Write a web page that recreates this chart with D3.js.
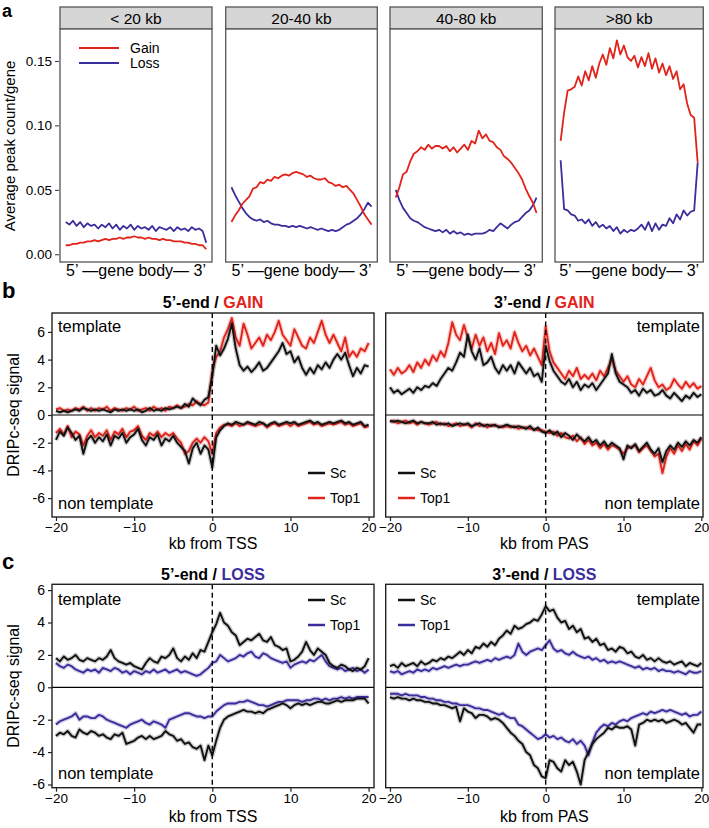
<!DOCTYPE html>
<html><head><meta charset="utf-8">
<script src="https://cdn.jsdelivr.net/npm/d3@7"></script>
<style>
body{margin:0;background:#fff}
svg{display:block}
text{font-family:"Liberation Sans",Arial,Helvetica,sans-serif;fill:#000}
</style>
</head><body>
<svg id="fig" width="709" height="828"></svg>
<script>
// ---------------- DATA ----------------
// Panel a: 40 bins along gene body
const aFacetLabels = ["< 20 kb", "20-40 kb", "40-80 kb", ">80 kb"];
const aTicks = [0.00, 0.05, 0.10, 0.15];
const gainLt20 = [0.007,0.007,0.008,0.008,0.009,0.009,0.010,0.010,0.011,0.010,0.011,0.012,0.011,0.012,0.012,0.013,0.012,0.013,0.013,0.014,0.013,0.013,0.012,0.013,0.012,0.012,0.011,0.012,0.011,0.011,0.010,0.010,0.010,0.009,0.009,0.008,0.008,0.007,0.007,0.004];
const lossLt20 = [0.025,0.023,0.026,0.022,0.025,0.021,0.024,0.022,0.023,0.020,0.023,0.021,0.024,0.020,0.023,0.019,0.022,0.020,0.023,0.019,0.022,0.020,0.021,0.019,0.022,0.018,0.021,0.020,0.019,0.021,0.018,0.021,0.019,0.020,0.018,0.021,0.019,0.020,0.018,0.009];
const gain20to40 = [0.025,0.030,0.034,0.039,0.042,0.045,0.051,0.052,0.056,0.055,0.058,0.057,0.060,0.059,0.061,0.062,0.061,0.063,0.064,0.063,0.062,0.060,0.061,0.059,0.058,0.058,0.059,0.056,0.055,0.053,0.054,0.052,0.053,0.050,0.047,0.042,0.037,0.031,0.027,0.023];
const loss20to40 = [0.052,0.046,0.041,0.036,0.032,0.029,0.027,0.026,0.027,0.025,0.026,0.024,0.023,0.023,0.022,0.022,0.021,0.022,0.021,0.022,0.021,0.020,0.021,0.020,0.019,0.020,0.019,0.018,0.019,0.018,0.019,0.021,0.023,0.024,0.026,0.028,0.031,0.035,0.040,0.037];
const gain40to80 = [0.044,0.052,0.062,0.064,0.072,0.078,0.080,0.083,0.081,0.085,0.082,0.084,0.084,0.082,0.084,0.080,0.083,0.079,0.082,0.085,0.081,0.088,0.086,0.096,0.090,0.093,0.088,0.087,0.083,0.081,0.076,0.074,0.071,0.067,0.063,0.058,0.051,0.045,0.040,0.032];
const loss40to80 = [0.050,0.042,0.036,0.032,0.028,0.026,0.025,0.023,0.021,0.020,0.019,0.018,0.019,0.017,0.019,0.016,0.018,0.016,0.017,0.015,0.016,0.015,0.016,0.016,0.016,0.017,0.019,0.018,0.021,0.024,0.022,0.020,0.023,0.025,0.026,0.029,0.032,0.034,0.038,0.044];
const gainGt80 = [0.088,0.110,0.127,0.128,0.130,0.138,0.131,0.142,0.135,0.146,0.137,0.148,0.155,0.147,0.160,0.152,0.166,0.155,0.162,0.153,0.150,0.154,0.145,0.153,0.146,0.156,0.144,0.152,0.141,0.148,0.139,0.146,0.136,0.142,0.128,0.132,0.117,0.108,0.106,0.071];
const lossGt80 = [0.073,0.035,0.034,0.031,0.030,0.026,0.027,0.024,0.027,0.022,0.025,0.021,0.023,0.020,0.022,0.018,0.021,0.016,0.019,0.017,0.019,0.018,0.020,0.023,0.019,0.025,0.018,0.024,0.019,0.023,0.022,0.028,0.024,0.031,0.027,0.034,0.030,0.033,0.034,0.071];

// Panels b, c: bins every 0.5 kb from -20 to +20
const kbTicks = [-20, -10, 0, 10, 20];
const signalTicks = [-6, -4, -2, 0, 2, 4, 6];

// b: 5'-end / GAIN
const gain5_Sc_template = [0.3,0.2,0.3,0.2,0.3,0.4,0.3,0.5,0.4,0.3, 0.4,0.3,0.4,0.3,0.2,0.4,0.3,0.4,0.3,0.4, 0.3,0.4,0.2,0.3,0.5,0.3,0.4,0.3,0.5,0.4, 0.5,0.6,0.5,0.8,0.6,1.2,0.9,0.7,1.1,1.3, 2.8, 5.0,4.3,4.8,5.5,6.6,4.8,3.6,3.2,3.5,3.1, 3.4,3.8,3.2,3.4,3.8,4.2,4.6,5.2,4.4,4.6, 3.8,4.2,3.4,2.9,3.4,3.0,3.6,3.3,3.8,3.4, 4.0,4.4,4.0,4.5,3.6,2.8,3.4,3.0,3.6,3.5];
const gain5_Top1_template = [0.4,0.5,0.3,0.4,0.3,0.5,0.4,0.6,0.3,0.5, 0.3,0.5,0.4,0.6,0.3,0.5,0.4,0.3,0.5,0.4, 0.6,0.3,0.4,0.5,0.3,0.6,0.4,0.5,0.3,0.6, 0.5,0.7,0.5,0.6,0.8,0.7,1.0,0.8,0.7,0.9, 3.2, 4.2,4.6,5.6,6.2,7.0,5.6,5.0,6.6,5.8,4.8, 5.2,5.6,5.0,5.8,5.4,6.0,6.8,5.8,5.4,5.0, 6.2,5.6,5.0,4.8,5.6,5.2,6.0,6.8,5.8,5.2, 5.8,5.2,4.6,5.6,4.2,4.6,4.2,4.8,4.6,5.2];
const gain5_Sc_nontemplate = [-1.8,-1.2,-1.5,-0.9,-1.3,-1.8,-1.5,-2.8,-1.8,-1.5, -2.0,-1.6,-1.9,-1.4,-2.2,-1.5,-1.7,-1.3,-2.0,-1.6, -1.4,-1.0,-1.8,-2.2,-1.6,-1.8,-1.4,-2.2,-1.7,-1.9, -1.5,-2.0,-2.3,-2.6,-3.5,-2.4,-2.0,-2.8,-2.2,-2.5, -3.8, -1.6,-1.1,-0.8,-0.6,-0.7,-0.5,-0.6,-0.7,-0.5,-0.6, -0.7,-0.5,-0.6,-0.8,-0.6,-0.5,-0.7,-0.6,-0.5,-0.6, -0.5,-0.7,-0.6,-0.5,-0.4,-0.6,-0.5,-0.7,-0.6,-0.5, -0.6,-0.5,-0.4,-0.6,-0.5,-0.7,-0.6,-0.5,-0.8,-0.7];
const gain5_Top1_nontemplate = [-1.3,-1.0,-1.4,-0.8,-1.6,-1.2,-1.4,-2.2,-1.5,-1.1, -1.6,-1.3,-1.5,-1.1,-1.8,-1.2,-1.4,-1.0,-1.6,-1.2, -1.1,-0.8,-1.5,-1.8,-1.3,-1.5,-1.2,-1.6,-1.3,-1.5, -1.3,-1.7,-2.0,-2.8,-2.6,-2.0,-1.7,-2.0,-1.6,-1.9, -2.8, -1.3,-0.9,-0.7,-0.7,-0.8,-0.6,-0.8,-0.7,-0.6,-0.7, -0.8,-0.7,-0.6,-0.9,-0.7,-0.6,-0.8,-0.7,-0.6,-0.8, -0.6,-0.8,-0.7,-0.6,-0.5,-0.7,-0.6,-0.8,-0.7,-0.6, -0.7,-0.6,-0.5,-0.7,-0.6,-0.8,-0.7,-0.6,-0.9,-0.8];

// b: 3'-end / GAIN
const gain3_Sc_template = [2.0,1.6,1.8,1.5,1.7,1.9,1.6,2.0,1.8,2.1, 2.0,2.3,2.1,2.6,3.0,3.4,3.2,3.8,4.5,4.2, 5.8,4.6,4.0,4.8,3.6,3.8,4.2,3.4,3.0,3.6, 3.2,3.6,3.0,3.8,3.4,3.0,3.4,2.8,3.0,2.4, 5.0, 3.9,3.2,2.8,2.4,2.2,2.6,2.0,2.4,1.8,2.2, 2.0,2.3,1.8,2.2,2.6,3.0,4.4,3.0,2.4,2.2, 2.0,1.6,1.8,1.4,1.9,1.6,1.8,1.4,1.5,1.8, 1.4,1.2,1.6,1.3,1.0,1.4,1.2,1.6,1.3,1.5];
const gain3_Top1_template = [3.3,2.9,3.4,3.0,3.2,3.6,3.1,3.8,3.4,4.0, 3.6,4.3,3.9,4.6,4.2,5.2,6.7,5.8,5.4,6.5, 5.6,4.8,5.8,5.0,5.6,4.6,5.2,4.4,5.9,5.0, 5.4,4.8,6.0,5.2,4.6,5.0,4.3,4.8,4.2,3.6, 6.4, 4.6,3.8,3.4,3.0,2.6,3.2,2.8,3.4,2.6,2.9, 2.6,3.0,2.5,3.2,2.8,3.4,4.0,3.2,2.8,2.4, 2.8,2.2,2.0,2.6,2.2,2.8,3.4,2.5,2.0,2.2, 1.8,2.0,2.6,2.2,1.9,2.4,2.0,2.3,1.9,2.1];
const gain3_Sc_nontemplate = [-0.4,-0.5,-0.4,-0.5,-0.6,-0.5,-0.4,-0.6,-0.5,-0.6, -0.6,-0.5,-0.7,-0.6,-0.7,-0.6,-0.8,-0.7,-0.6,-0.7, -0.6,-0.8,-0.7,-0.6,-0.8,-0.7,-0.8,-0.7,-0.9,-0.8, -0.7,-0.8,-0.9,-0.8,-0.9,-1.0,-0.8,-1.1,-0.9,-1.2, -1.3, -1.1,-1.4,-1.2,-1.6,-1.3,-1.5,-1.8,-1.4,-1.7,-1.9, -1.6,-2.0,-1.8,-2.2,-1.9,-2.3,-2.0,-2.2,-2.4,-3.2, -2.2,-2.4,-2.1,-2.6,-2.3,-2.0,-2.5,-2.8,-2.4,-3.4, -2.6,-2.2,-2.5,-2.0,-2.3,-1.9,-2.2,-1.8,-2.0,-1.6];
const gain3_Top1_nontemplate = [-0.5,-0.4,-0.6,-0.5,-0.4,-0.6,-0.5,-0.7,-0.5,-0.6, -0.7,-0.6,-0.5,-0.7,-0.6,-0.8,-0.7,-0.6,-0.8,-0.7, -0.7,-0.9,-0.6,-0.8,-0.7,-0.9,-0.7,-0.8,-0.8,-0.9, -0.8,-0.9,-0.8,-1.0,-0.9,-0.9,-1.0,-1.0,-1.1,-1.1, -1.2, -1.3,-1.2,-1.5,-1.3,-1.6,-1.7,-1.5,-1.9,-1.6,-2.1, -1.8,-2.2,-2.0,-2.4,-2.1,-2.5,-2.2,-2.3,-2.5,-2.8, -2.4,-2.3,-2.2,-2.7,-2.4,-2.2,-2.6,-3.0,-2.8,-4.2, -3.0,-2.4,-2.8,-2.2,-2.6,-2.1,-2.5,-1.9,-2.2,-1.7];

// c: 5'-end / LOSS
const loss5_Sc_template = [1.8,1.6,1.9,1.7,1.8,2.0,1.7,1.6,1.8,1.7, 1.6,1.8,1.7,1.9,2.3,1.8,1.6,1.5,1.4,1.5, 1.3,1.2,1.1,1.5,1.8,1.6,1.5,1.9,1.8,2.0, 2.4,1.8,1.6,1.9,1.7,2.1,1.8,2.3,2.2,2.8, 3.4, 3.9,4.6,4.0,3.8,3.4,3.2,2.6,2.8,3.0,2.9, 3.1,3.3,2.9,2.8,3.1,2.6,2.5,2.3,2.4,1.6, 1.7,1.9,2.2,2.8,2.3,2.0,2.4,2.2,2.0,1.5, 1.3,1.2,1.4,1.3,1.1,1.0,1.2,1.1,1.3,1.8];
const loss5_Top1_template = [1.5,1.3,1.2,1.4,1.3,1.1,1.0,0.9,1.1,1.0, 1.1,0.9,1.2,1.1,1.0,1.2,1.1,0.9,1.0,0.8, 1.0,0.9,0.8,1.0,0.9,1.1,0.9,1.0,1.1,0.9, 1.0,1.1,0.9,1.0,0.9,0.8,0.7,0.8,1.0,1.2, 1.5, 1.6,2.0,1.8,1.6,1.7,1.8,2.0,1.9,2.1,2.2, 1.9,1.8,2.1,2.0,1.8,1.7,1.6,1.5,1.6,1.2, 1.4,1.5,1.6,1.5,1.7,1.6,1.8,2.0,1.6,1.3, 1.2,1.1,1.2,1.0,1.1,1.2,1.0,1.1,0.9,1.1];
const loss5_Sc_nontemplate = [-3.0,-2.8,-2.9,-2.7,-3.0,-3.1,-2.6,-2.8,-2.9,-2.7, -2.8,-3.0,-2.9,-3.1,-3.2,-2.9,-3.0,-2.8,-3.5,-3.4, -3.3,-3.1,-3.0,-3.2,-3.0,-3.2,-3.1,-3.0,-2.7,-2.9, -3.0,-3.3,-3.2,-3.5,-3.4,-3.7,-3.8,-3.6,-4.5,-3.6, -4.2, -3.3,-2.5,-2.0,-1.8,-1.7,-1.6,-1.5,-1.4,-1.5,-1.5, -1.6,-1.5,-1.6,-1.4,-1.3,-1.2,-1.1,-1.0,-1.1,-1.3, -1.1,-1.0,-1.1,-1.0,-1.1,-1.0,-0.9,-0.9,-1.0,-1.0, -0.9,-0.8,-0.9,-0.8,-0.8,-0.8,-0.7,-0.7,-0.7,-1.0];
const loss5_Top1_nontemplate = [-2.3,-2.1,-2.0,-1.9,-1.8,-1.6,-2.0,-1.8,-1.8,-1.9, -1.9,-1.7,-1.8,-2.0,-2.1,-2.2,-2.3,-2.4,-2.5,-2.3, -2.2,-2.1,-2.0,-2.2,-2.3,-2.1,-2.2,-2.3,-2.5,-2.0, -1.9,-1.8,-1.7,-1.6,-1.6,-1.7,-1.8,-1.8,-1.9,-1.8, -1.8, -1.5,-1.3,-1.1,-1.0,-1.0,-1.0,-0.9,-0.9,-0.8,-0.9, -1.0,-1.1,-1.1,-1.2,-1.1,-1.0,-0.9,-0.9,-0.8,-0.8, -0.8,-0.8,-0.9,-0.8,-0.8,-0.7,-0.7,-0.8,-0.7,-0.8, -0.7,-0.7,-0.6,-0.7,-0.6,-0.7,-0.6,-0.6,-0.6,-0.6];

// c: 3'-end / LOSS
const loss3_Sc_template = [1.3,1.4,1.2,1.5,1.3,1.4,1.5,1.3,1.6,1.4, 1.5,1.7,1.6,1.8,1.7,1.9,1.8,2.0,2.2,2.0, 2.3,2.1,2.5,2.4,2.7,2.5,2.8,2.6,3.0,3.2, 3.5,3.3,3.8,3.6,3.7,3.9,4.0,4.2,4.1,4.5, 5.0, 4.7,4.8,4.3,4.0,4.1,3.6,3.8,3.4,3.6,3.0, 3.1,2.8,3.0,2.6,2.7,2.3,2.4,2.2,2.5,2.4, 2.1,2.2,1.9,1.8,2.0,1.7,1.8,1.6,1.8,1.6, 1.5,1.6,1.4,1.5,1.6,1.3,1.5,1.4,1.3,1.5];
const loss3_Top1_template = [1.0,0.9,1.0,0.8,0.9,1.0,0.9,1.1,1.0,1.1, 1.0,1.2,1.1,1.2,1.3,1.2,1.3,1.4,1.3,1.4, 1.4,1.5,1.6,1.5,1.6,1.7,1.6,1.8,1.7,1.8, 1.9,1.8,2.0,2.7,2.2,2.0,2.2,2.3,2.4,2.3, 2.6, 2.9,2.4,2.2,2.3,2.1,2.0,2.2,2.0,1.9,1.8, 1.9,1.7,1.8,1.6,1.7,1.5,1.6,1.5,1.6,1.5, 1.4,1.3,1.2,1.3,1.1,1.2,1.1,1.2,1.0,1.1, 1.0,1.0,0.9,1.0,0.9,0.8,1.0,0.9,0.9,1.0];
const loss3_Sc_nontemplate = [-0.6,-0.7,-0.6,-0.7,-0.7,-0.8,-0.7,-0.8,-0.8,-0.9, -0.9,-1.0,-1.0,-1.1,-1.1,-1.2,-1.3,-1.2,-2.1,-1.3, -1.5,-1.6,-1.9,-1.7,-1.7,-1.8,-2.0,-1.9,-2.0,-2.2, -2.5,-2.8,-3.0,-3.3,-3.5,-4.0,-4.2,-4.8,-5.0,-5.5, -5.6, -4.5,-4.6,-5.0,-5.2,-4.5,-4.8,-4.6,-5.2,-6.0,-4.5, -4.0,-3.5,-3.2,-3.0,-2.8,-2.5,-2.6,-2.4,-2.5,-2.5, -2.4,-2.6,-3.6,-2.3,-2.2,-2.0,-2.1,-2.0,-2.1,-2.0, -2.2,-2.1,-2.0,-2.1,-2.3,-2.2,-2.5,-2.8,-2.3,-2.3];
const loss3_Top1_nontemplate = [-0.4,-0.4,-0.4,-0.5,-0.4,-0.5,-0.5,-0.5,-0.6,-0.6, -0.7,-0.7,-0.8,-0.8,-0.9,-0.9,-1.0,-1.0,-1.1,-1.1, -1.1,-1.2,-1.3,-1.3,-1.4,-1.4,-1.5,-1.6,-1.7,-1.6, -1.8,-1.9,-1.9,-2.3,-2.4,-2.6,-2.8,-3.0,-3.2,-3.1, -2.9, -3.1,-3.0,-3.2,-3.1,-3.3,-3.4,-3.2,-3.5,-3.3,-3.6, -4.2,-3.4,-2.8,-2.5,-2.3,-2.4,-2.2,-2.3,-2.1,-2.0, -2.1,-1.9,-1.8,-1.7,-1.6,-1.7,-1.5,-1.6,-1.5,-1.4, -1.5,-1.4,-1.5,-1.6,-1.7,-1.6,-1.8,-1.7,-1.7,-1.5];

// ---------------- DRAWING ----------------
const RED = "#e2231a", BLUE = "#3a2e9c", BLACK = "#111";
const svg = d3.select("#fig");
const FONT = "'Liberation Sans', Arial, Helvetica, sans-serif";

function label(txt, x, y, opts = {}) {
  return svg.append("text").attr("x", x).attr("y", y)
    .attr("font-size", opts.size || 15)
    .attr("font-weight", opts.bold ? "bold" : null)
    .attr("text-anchor", opts.anchor || "start")
    .attr("fill", opts.fill || "#000")
    .text(txt);
}

// Panel letters
label("a", 2, 16.5, {size: 18, bold: true});
label("b", 2, 298, {size: 22, bold: true});
label("c", 2, 569, {size: 22, bold: true});

// ---- Panel a ----
const aBins = d3.range(gainLt20.length);
const aY = d3.scaleLinear().domain([-0.006, 0.1748]).range([262, 29]);
const aFacets = [
  {gain: gainLt20, loss: lossLt20, x0: 60, x1: 212},
  {gain: gain20to40, loss: loss20to40, x0: 225.7, x1: 377.3},
  {gain: gain40to80, loss: loss40to80, x0: 390, x1: 542.3},
  {gain: gainGt80, loss: lossGt80, x0: 555, x1: 703.3}
];
aFacets.forEach((f, k) => {
  const w = f.x1 - f.x0;
  const x = d3.scaleLinear().domain([-1.6, aBins.length - 1 + 1.6]).range([f.x0, f.x1]);
  svg.append("rect").attr("x", f.x0).attr("y", 7).attr("width", w).attr("height", 22)
    .attr("fill", "#d6d6d6").attr("stroke", "#555").attr("stroke-width", 1.3);
  svg.append("text").attr("x", f.x0 + w / 2).attr("y", 24).attr("text-anchor", "middle")
    .attr("font-size", 15.5).text(aFacetLabels[k]);
  svg.append("rect").attr("x", f.x0).attr("y", 29).attr("width", w).attr("height", 233)
    .attr("fill", "#fff").attr("stroke", "#555").attr("stroke-width", 1.3);
  const line = d3.line().x((d, i) => x(aBins[i])).y(d => aY(d));
  svg.append("path").datum(f.loss).attr("d", line).attr("fill", "none")
    .attr("stroke", BLUE).attr("stroke-width", 1.8).attr("stroke-linejoin", "round");
  svg.append("path").datum(f.gain).attr("d", line).attr("fill", "none")
    .attr("stroke", RED).attr("stroke-width", 1.8).attr("stroke-linejoin", "round");
  svg.append("text").attr("x", f.x0 + w / 2).attr("y", 276).attr("text-anchor", "middle")
    .attr("font-size", 16).text("5’ \u2014gene body\u2014 3’");
});
// a y-axis
const aAxis = svg.append("g").attr("transform", "translate(59,0)")
  .call(d3.axisLeft(aY).tickValues(aTicks).tickFormat(d3.format(".2f")).tickSize(4).tickPadding(3));
aAxis.select(".domain").remove();
aAxis.selectAll("line").attr("stroke", "#333");
aAxis.selectAll("text").attr("font-size", 13.5).attr("font-family", FONT).attr("fill", "#000");
svg.append("text").attr("transform", "translate(15,146) rotate(-90)").attr("text-anchor", "middle")
  .attr("font-size", 15).text("Average peak count/gene");
// a legend
svg.append("line").attr("x1", 79).attr("x2", 119).attr("y1", 48).attr("y2", 48).attr("stroke", RED).attr("stroke-width", 2);
svg.append("line").attr("x1", 79).attr("x2", 119).attr("y1", 63).attr("y2", 63).attr("stroke", BLUE).attr("stroke-width", 2);
label("Gain", 130, 53, {size: 14});
label("Loss", 130, 68, {size: 14});

// ---- Panels b & c ----
const kb = d3.range(-20, 20.001, 0.5);
const rows = [
  {yDom: [-7.365, 7.365], top: 313, bottom: 517, titleY: 308, axTitleY: 549, word: "GAIN", wordColor: RED, top1Color: RED, legendY: [473, 498]},
  {yDom: [-6.198, 6.358], top: 584.3, bottom: 787.7, titleY: 580, axTitleY: 822, word: "LOSS", wordColor: BLUE, top1Color: BLUE, legendY: [600, 625]}
];
const cols = [
  {x0: 52, x1: 374, xDom: [-20.51, 20.69], end: "5’-end", xLab: "kb from TSS", templateSide: "left", legendX: 308},
  {x0: 385.7, x1: 703, xDom: [-20.55, 20.21], end: "3’-end", xLab: "kb from PAS", templateSide: "right", legendX: 398}
];
const seriesGrid = [
  [ {scT: gain5_Sc_template, tT: gain5_Top1_template, scN: gain5_Sc_nontemplate, tN: gain5_Top1_nontemplate},
    {scT: gain3_Sc_template, tT: gain3_Top1_template, scN: gain3_Sc_nontemplate, tN: gain3_Top1_nontemplate} ],
  [ {scT: loss5_Sc_template, tT: loss5_Top1_template, scN: loss5_Sc_nontemplate, tN: loss5_Top1_nontemplate},
    {scT: loss3_Sc_template, tT: loss3_Top1_template, scN: loss3_Sc_nontemplate, tN: loss3_Top1_nontemplate} ]
];

rows.forEach((r, ri) => {
  const y = d3.scaleLinear().domain(r.yDom).range([r.bottom, r.top]);
  cols.forEach((c, ci) => {
    const x = d3.scaleLinear().domain(c.xDom).range([c.x0, c.x1]);
    const s = seriesGrid[ri][ci];
    const g = svg.append("g");
    const clipId = "clip" + ri + ci;
    svg.append("clipPath").attr("id", clipId).append("rect")
      .attr("x", c.x0).attr("y", r.top).attr("width", c.x1 - c.x0).attr("height", r.bottom - r.top);
    const lines = g.append("g").attr("clip-path", `url(#${clipId})`);
    const line = d3.line().x((d, i) => x(kb[i])).y(d => y(d));
    const drawSeries = (arr, color) => {
      lines.append("path").datum(arr).attr("d", line).attr("fill", "none")
        .attr("stroke", color).attr("stroke-width", 4.5).attr("stroke-opacity", 0.22).attr("stroke-linejoin", "round");
      lines.append("path").datum(arr).attr("d", line).attr("fill", "none")
        .attr("stroke", color).attr("stroke-width", 1.9).attr("stroke-linejoin", "round");
    };
    drawSeries(s.tT, r.top1Color);
    drawSeries(s.tN, r.top1Color);
    drawSeries(s.scT, BLACK);
    drawSeries(s.scN, BLACK);
    // zero line
    g.append("line").attr("x1", c.x0).attr("x2", c.x1).attr("y1", y(0)).attr("y2", y(0))
      .attr("stroke", "#000").attr("stroke-width", 1.2);
    // dashed TSS/PAS line
    g.append("line").attr("x1", x(0)).attr("x2", x(0)).attr("y1", r.top).attr("y2", r.bottom)
      .attr("stroke", "#000").attr("stroke-width", 1.4).attr("stroke-dasharray", "5,3.5");
    // box
    g.append("rect").attr("x", c.x0).attr("y", r.top).attr("width", c.x1 - c.x0).attr("height", r.bottom - r.top)
      .attr("fill", "none").attr("stroke", "#222").attr("stroke-width", 1.4);
    // x axis
    const xa = svg.append("g").attr("transform", `translate(0,${r.bottom})`)
      .call(d3.axisBottom(x).tickValues(kbTicks).tickSize(4).tickPadding(1.5)
        .tickFormat(d => d < 0 ? "\u2212" + Math.abs(d) : String(d)));
    xa.select(".domain").remove();
    xa.selectAll("line").attr("stroke", "#222").attr("stroke-width", 1.2);
    xa.selectAll("text").attr("font-size", 13.5).attr("font-family", FONT).attr("fill", "#000");
    svg.append("text").attr("x", (c.x0 + c.x1) / 2).attr("y", r.axTitleY).attr("text-anchor", "middle")
      .attr("font-size", 16).text(c.xLab);
    // title
    const t = svg.append("text").attr("x", (c.x0 + c.x1) / 2).attr("y", r.titleY).attr("text-anchor", "middle")
      .attr("font-size", 16).attr("font-weight", "bold");
    t.append("tspan").text(c.end + " / ");
    t.append("tspan").attr("fill", r.wordColor).text(r.word);
    // template labels
    const tY = ri === 0 ? 332 : 605;
    const nY = ri === 0 ? 509 : 779;
    if (c.templateSide === "left") {
      label("template", c.x0 + 6, tY, {size: 16.5});
      label("non template", c.x0 + 6, nY, {size: 16.5});
    } else {
      label("template", c.x1 - 3, tY, {size: 16.5, anchor: "end"});
      label("non template", c.x1 - 3, nY, {size: 16.5, anchor: "end"});
    }
    // legend
    [["Sc", BLACK], ["Top1", r.top1Color]].forEach(([name, col], li) => {
      const ly = r.legendY[li];
      svg.append("line").attr("x1", c.legendX).attr("x2", c.legendX + 17).attr("y1", ly).attr("y2", ly)
        .attr("stroke", col).attr("stroke-width", 2.5);
      label(name, c.legendX + 22, ly + 5, {size: 14});
    });
    // y axis only on left column
    if (ci === 0) {
      const ya = svg.append("g").attr("transform", `translate(${c.x0},0)`)
        .call(d3.axisLeft(y).tickValues(signalTicks).tickSize(4).tickPadding(3).tickFormat(d => String(d)));
      ya.select(".domain").remove();
      ya.selectAll("line").attr("stroke", "#222").attr("stroke-width", 1.2);
      ya.selectAll("text").attr("font-size", 14).attr("font-family", FONT).attr("fill", "#000");
      svg.append("text").attr("transform", `translate(19,${(r.top + r.bottom) / 2}) rotate(-90)`)
        .attr("text-anchor", "middle").attr("font-size", 16).text("DRIPc-seq signal");
    }
  });
});
</script>
</body></html>
